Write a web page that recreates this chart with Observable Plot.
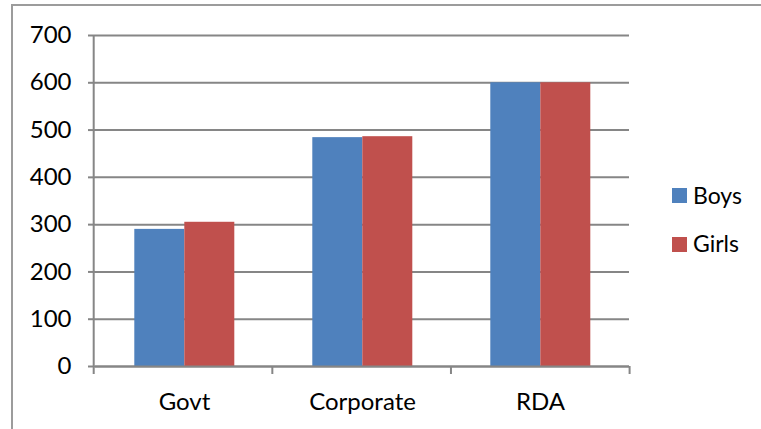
<!DOCTYPE html>
<html>
<head>
<meta charset="utf-8">
<script src="https://cdn.jsdelivr.net/npm/d3@7"></script>
<script src="https://cdn.jsdelivr.net/npm/@observablehq/plot@0.6"></script>
<style>
  html, body { margin: 0; padding: 0; background: #fff; overflow: hidden; }
  #wrap { position: relative; width: 761px; height: 429px; }
  #border { position: absolute; left: 11px; top: 4px; width: 800px; height: 500px;
            border: 2px solid #9c9c9c; box-sizing: border-box; }
  #chart { position: absolute; left: 0; top: 0; }
  #chart svg { display: block; }
  .sw { position: absolute; width: 15px; height: 15px; }
  .lb { position: absolute; font-family: Lato, sans-serif; font-size: 23px; line-height: normal; color: #000; }
</style>
</head>
<body>
<div id="wrap">
  <div id="border"></div>
  <div id="chart"></div>
</div>
<script>
const categories = ["Govt", "Corporate", "RDA"];
const series = ["Boys", "Girls"];
const boys = [290, 484, 600];
const girls = [305, 486, 600];
const yTicks = [0, 100, 200, 300, 400, 500, 600, 700];
const colors = ["#4F81BD", "#C0504D"];

const data = categories.flatMap((c, i) => [
  {category: c, series: "Boys", value: boys[i]},
  {category: c, series: "Girls", value: girls[i]}
]);

const gray = "#868686";

const chart = Plot.plot({
  width: 761,
  height: 429,
  marginLeft: 93.7,
  marginRight: 131.4,
  marginTop: 35,
  marginBottom: 63,
  style: {fontFamily: "Lato, sans-serif", fontSize: "24px", color: "#000", background: "transparent", overflow: "visible"},
  fx: {domain: categories, padding: 0, label: null, axis: "bottom", tickSize: 0, tickPadding: 26},
  x: {domain: series, paddingInner: 0, paddingOuter: 0.75, axis: null},
  y: {domain: [0, 700], axis: null},
  color: {domain: series, range: colors},
  marks: [
    Plot.gridY(yTicks, {stroke: gray, strokeOpacity: 1, strokeWidth: 2}),
    Plot.barY(data, {fx: "category", x: "series", y: "value", fill: "series"}),
    Plot.ruleY([0], {stroke: gray, strokeWidth: 2}),
    Plot.axisY(yTicks, {anchor: "left", tickSize: 7, tickPadding: 17, stroke: gray, strokeOpacity: 1, strokeWidth: 2, fill: "#000", label: null, fontSize: 24})
  ]
});
document.getElementById("chart").appendChild(chart);

// Category boundary ticks and the vertical axis line, placed with the fx and y scales
const fxs = chart.scale("fx");
const ys = chart.scale("y");
const fxScale = d3.scaleBand(fxs.domain, fxs.range).paddingInner(0).paddingOuter(0);
const yScale = d3.scaleLinear(ys.domain, ys.range);
const bounds = categories.map(c => fxScale(c)).concat(fxScale(categories[categories.length - 1]) + fxScale.bandwidth());
const y0 = yScale(0), yTop = yScale(700);
const g = d3.select(chart).append("g").attr("stroke", gray).attr("stroke-width", 2);
bounds.forEach((x, i) => {
  g.append("line").attr("x1", x).attr("x2", x)
    .attr("y1", i === 0 ? yTop : y0).attr("y2", y0 + 8);
});

// Legend
const wrap = document.getElementById("wrap");
const swatchTops = [188, 237];
const labelTops = [181, 229];
series.forEach((s, i) => {
  const sw = document.createElement("div");
  sw.className = "sw";
  sw.style.left = "672px";
  sw.style.top = swatchTops[i] + "px";
  sw.style.background = colors[i];
  wrap.appendChild(sw);
  const lb = document.createElement("div");
  lb.className = "lb";
  lb.style.left = "693px";
  lb.style.top = labelTops[i] + "px";
  lb.textContent = s;
  wrap.appendChild(lb);
});
</script>
</body>
</html>
